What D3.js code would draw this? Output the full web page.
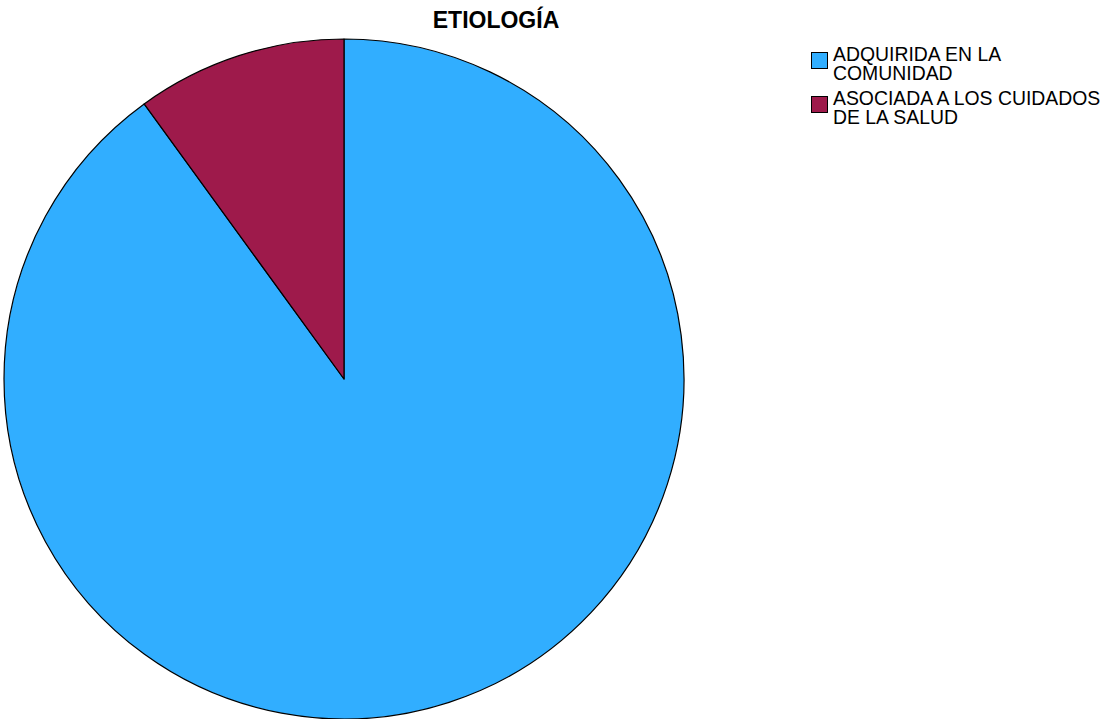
<!DOCTYPE html>
<html>
<head>
<meta charset="utf-8">
<script src="https://cdn.jsdelivr.net/npm/d3@7"></script>
<style>
  html, body { margin: 0; padding: 0; background: #ffffff; }
  svg { display: block; }
  text { font-family: Arial, "Liberation Sans", sans-serif; fill: #000; }
</style>
</head>
<body>
<svg id="chart" width="1102" height="719"></svg>
<script>
const title = "ETIOLOGÍA";
const categories = ["ADQUIRIDA EN LA COMUNIDAD", "ASOCIADA A LOS CUIDADOS DE LA SALUD"];
const legendLines = [["ADQUIRIDA EN LA", "COMUNIDAD"], ["ASOCIADA A LOS CUIDADOS", "DE LA SALUD"]];
const values = [90, 10];
const colors = ["#31AEFF", "#9E1A4B"];

const svg = d3.select("#chart");
const cx = 344, cy = 379, R = 340;

const pie = d3.pie().sort(null).value(d => d.v).startAngle(0).endAngle(2 * Math.PI);
const arc = d3.arc().innerRadius(0).outerRadius(R);
const color = d3.scaleOrdinal().domain(categories).range(colors);

const data = categories.map((c, i) => ({ c, v: values[i] }));

const g = svg.append("g").attr("transform", `translate(${cx},${cy})`);
g.selectAll("path").data(pie(data)).join("path")
  .attr("d", arc)
  .attr("fill", d => color(d.data.c))
  .attr("stroke", "#000")
  .attr("stroke-width", 1.2)
  .attr("stroke-linejoin", "round");

svg.append("text")
  .attr("x", 496).attr("y", 27.5)
  .attr("text-anchor", "middle")
  .attr("font-weight", "bold")
  .attr("font-size", 23)
  .text(title);

const lg = svg.append("g");
const items = lg.selectAll("g").data(categories).join("g")
  .attr("transform", (d, i) => `translate(0,${i * 44})`);
items.append("rect")
  .attr("x", 811.5).attr("y", 52.5).attr("width", 16).attr("height", 16)
  .attr("fill", d => color(d)).attr("stroke", "#000").attr("stroke-width", 1);
items.each(function(d, i) {
  const t = d3.select(this).append("text").attr("font-size", 19.4);
  legendLines[i].forEach((l, j) => {
    t.append("tspan").attr("x", 833).attr("y", 61 + j * 18.5).text(l);
  });
});
</script>
</body>
</html>
